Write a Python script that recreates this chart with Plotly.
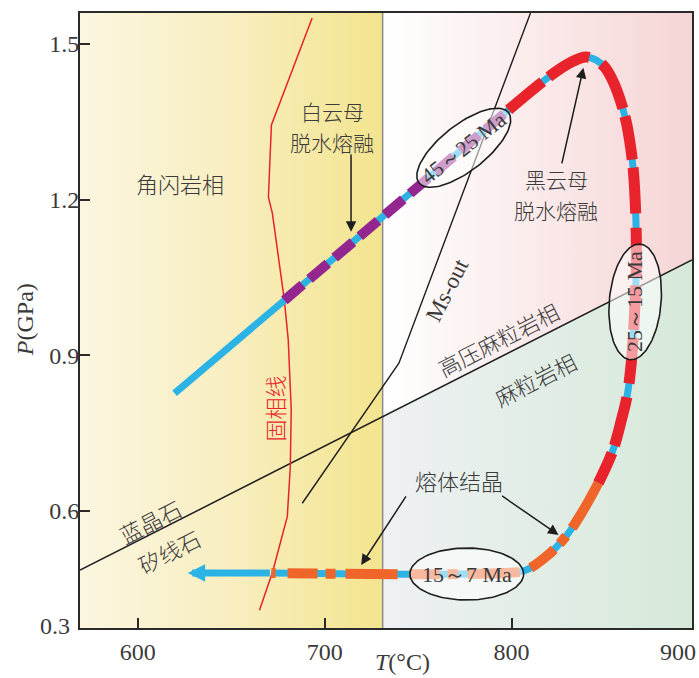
import numpy as np
import plotly.graph_objects as go

# ---------------- axis extents (T in °C, P in GPa) ----------------
T_MIN, T_MAX = 569.1, 896.5
P_MIN, P_MAX = 0.3746, 1.5597

# ---------------- phase boundaries ----------------
# kyanite/sillimanite line, continuing as the HP-granulite / granulite boundary
boundary_T = [569.1, 896.5]
boundary_P = [0.486, 1.084]

# amphibolite facies limit (vertical divide)
facies_T = 731.0

# muscovite-out reaction
ms_out_T = [810.1, 739.7, 688.0]
ms_out_P = [1.5597, 0.885, 0.615]

# wet solidus
solidus_T = [693.3, 671.5, 669.9, 672.0, 678.4, 680.5, 682.1, 681.6, 680.0, 672.0, 665.1]
solidus_P = [1.550, 1.344, 1.205, 1.174, 1.007, 0.930, 0.795, 0.685, 0.589, 0.481, 0.409]

# ---------------- P-T path ----------------
start_T = [619.7, 678.4]
start_P = [0.827, 1.006]
prograde_T = [678.4, 754.1, 798.4]
prograde_P = [1.006, 1.238, 1.373]
peak_T = [798.4, 814.4, 825.1, 833.1, 839.5, 845.3, 850.1, 854.4, 858.1, 861.3, 863.5,
          865.1, 866.1, 866.7, 866.7, 866.1, 865.1, 864.0, 861.9, 858.7, 853.9, 846.4]
peak_P = [1.373, 1.421, 1.450, 1.467, 1.475, 1.469, 1.454, 1.427, 1.392, 1.350, 1.305,
          1.257, 1.199, 1.128, 1.065, 1.007, 0.939, 0.885, 0.824, 0.775, 0.714, 0.654]
retro_T = [846.4, 838.4, 828.8, 818.1, 807.5, 795.7, 671.5]
retro_P = [0.654, 0.602, 0.550, 0.511, 0.486, 0.4805, 0.4805]
exhum_tip = (626.7, 0.4805)

# ---------------- age windows (ellipses) ----------------
age_labels = ["45～25 Ma", "25～15 Ma", "15～7 Ma"]
age_T = [774.4, 866.1, 776.0]
age_P = [1.300, 1.003, 0.4786]

# ---------------- colours ----------------
CYAN = "#2BB3E6"
PURPLE = "#93278F"
RED = "#E8232B"
ORANGE = "#F0652A"
INK = "#3A3A3A"
CJK = "Noto Sans CJK SC"
SERIF = "Liberation Serif"

W, H = 699, 678
M = dict(l=80, r=5, t=13, b=50)
PLOT_W = W - M["l"] - M["r"]
PLOT_H = H - M["t"] - M["b"]
PX_T = PLOT_W / (T_MAX - T_MIN)
PX_P = PLOT_H / (P_MAX - P_MIN)


def boundary_at(t):
    return float(np.interp(t, boundary_T, boundary_P))


def ellipse(tc, pc, a, b, ang):
    """Ellipse with semi-axes a, b (pixels) rotated by ang degrees."""
    s = np.linspace(0, 2 * np.pi, 121)
    th = np.radians(ang)
    dx = a * np.cos(s) * np.cos(th) - b * np.sin(s) * np.sin(th)
    dy = a * np.cos(s) * np.sin(th) + b * np.sin(s) * np.cos(th)
    return tc + dx / PX_T, pc + dy / PX_P


fig = go.Figure()

# ---- facies backgrounds ----
fig.add_trace(go.Scatter(
    x=[T_MIN, facies_T, facies_T, T_MIN, T_MIN], y=[P_MIN, P_MIN, P_MAX, P_MAX, P_MIN],
    fill="toself", mode="none", hoverinfo="skip",
    fillgradient=dict(type="horizontal",
                      colorscale=[[0, "#FBF6E0"], [0.5, "#F8EEC0"], [1, "#F3E48E"]])))
pb_l, pb_r = boundary_at(facies_T), boundary_at(T_MAX)
fig.add_trace(go.Scatter(
    x=[facies_T, T_MAX, T_MAX, facies_T, facies_T], y=[P_MAX, P_MAX, pb_r, pb_l, P_MAX],
    fill="toself", mode="none", hoverinfo="skip",
    fillgradient=dict(type="horizontal", colorscale=[[0, "#FFFFFF"], [1, "#F6D5D5"]])))
fig.add_trace(go.Scatter(
    x=[facies_T, T_MAX, T_MAX, facies_T, facies_T], y=[pb_l, pb_r, P_MIN, P_MIN, pb_l],
    fill="toself", mode="none", hoverinfo="skip",
    fillgradient=dict(type="horizontal", colorscale=[[0, "#EEF1F3"], [1, "#D6E9D9"]])))

# ---- reaction lines ----
fig.add_trace(go.Scatter(x=[facies_T, facies_T], y=[P_MIN, P_MAX], mode="lines",
                         line=dict(color="#8A8A8A", width=1.5), hoverinfo="skip"))
fig.add_trace(go.Scatter(x=boundary_T, y=boundary_P, mode="lines",
                         line=dict(color="#1E1E1E", width=1.5), hoverinfo="skip"))
fig.add_trace(go.Scatter(x=ms_out_T, y=ms_out_P, mode="lines",
                         line=dict(color="#1E1E1E", width=1.4), hoverinfo="skip"))
fig.add_trace(go.Scatter(x=solidus_T, y=solidus_P, mode="lines",
                         line=dict(color="#E8232B", width=1.5), hoverinfo="skip"))

# ---- P-T path: cyan core with coloured dashes ----
path_T = start_T + prograde_T[1:] + peak_T[1:] + retro_T[1:]
path_P = start_P + prograde_P[1:] + peak_P[1:] + retro_P[1:]
fig.add_trace(go.Scatter(x=path_T, y=path_P, mode="lines", line_shape="spline",
                         line=dict(color=CYAN, width=7), hoverinfo="skip"))
fig.add_trace(go.Scatter(x=prograde_T, y=prograde_P, mode="lines",
                         line=dict(color=PURPLE, width=10, dash="24px,9px"), hoverinfo="skip"))
fig.add_trace(go.Scatter(x=peak_T, y=peak_P, mode="lines", line_shape="spline",
                         line=dict(color=RED, width=11, dash="44px,8px,46px,14px,50px,8px"),
                         hoverinfo="skip"))
fig.add_trace(go.Scatter(x=retro_T, y=retro_P, mode="lines", line_shape="spline",
                         line=dict(color=ORANGE, width=10, dash="52px,10px,10px,8px,30px,12px"),
                         hoverinfo="skip"))

# ---- age ellipses ----
ell_geom = [(57, 23, 38), (58, 26, 85), (57, 26, 0)]
for (a, b, ang), tc, pc in zip(ell_geom, age_T, age_P):
    ex, ey = ellipse(tc, pc, a, b, ang)
    fig.add_trace(go.Scatter(x=ex, y=ey, mode="lines", fill="toself",
                             fillcolor="rgba(255,255,255,0.55)",
                             line=dict(color="#1E1E1E", width=1.6), hoverinfo="skip"))

annotations = []


def label(text, t, p, size=22, angle=0, color=INK, family=CJK, weight=300):
    annotations.append(dict(x=t, y=p, xref="x", yref="y", text=text, showarrow=False,
                            textangle=angle,
                            font=dict(family=family, size=size, color=color, weight=weight),
                            xanchor="center", yanchor="middle"))


def pointer(t0, p0, t1, p1):
    annotations.append(dict(x=t1, y=p1, ax=t0, ay=p0, xref="x", yref="y", axref="x",
                            ayref="y", text="", showarrow=True, arrowhead=2,
                            arrowsize=1.4, arrowwidth=1.5, arrowcolor="#1E1E1E"))


def page_text(text, px, py, angle=0, xanchor="center"):
    annotations.append(dict(x=(px - M["l"]) / PLOT_W, y=(M["t"] + PLOT_H - py) / PLOT_H,
                            xref="paper", yref="paper", text=text, showarrow=False,
                            textangle=angle, xanchor=xanchor, yanchor="middle",
                            font=dict(family=SERIF, size=24, color=INK)))


label("角闪岩相", 622.4, 1.232)
label("白云母", 704.0, 1.371, size=21)
label("脱水熔融", 704.0, 1.311, size=21)
label("黑云母", 824.0, 1.240, size=21)
label("脱水熔融", 824.0, 1.180, size=21)
label("熔体结晶", 771.7, 0.660)
label("高压麻粒岩相", 792.5, 0.932, angle=-27)
label("麻粒岩相", 812.5, 0.855, angle=-27)
label("蓝晶石", 606.4, 0.581, angle=-27)
label("矽线石", 616.5, 0.523, angle=-27)
label("固相线", 673.1, 0.7985, angle=-90, color="#E8232B")
label("Ms-out", 765.9, 1.026, size=23, angle=-63, family=SERIF, weight=400)
for txt, tc, pc, ang in zip(age_labels, age_T, age_P, [-38, -90, 0]):
    label(txt, tc, pc, size=22, angle=ang, family=SERIF, weight=400)

pointer(714.1, 1.290, 714.1, 1.138)
pointer(826.7, 1.267, 838.4, 1.454)
pointer(744.0, 0.631, 719.5, 0.496)
pointer(794.1, 0.631, 825.1, 0.554)

# arrowhead at the end of the exhumation path
annotations.append(dict(x=exhum_tip[0], y=exhum_tip[1], ax=retro_T[-1], ay=retro_P[-1],
                        xref="x", yref="y", axref="x", ayref="y", text="", showarrow=True,
                        arrowhead=2, arrowsize=0.5, arrowwidth=7, arrowcolor=CYAN))

# axis titles and end labels
page_text("<i>P</i>(GPa)", 25, 320, angle=-90)
page_text("<i>T</i>(°C)", 404, 662)
page_text("0.3", 72, 626, xanchor="right")
page_text("900", 680, 652)

axis_common = dict(showgrid=False, zeroline=False, showline=True, mirror=True,
                   linecolor="#2A2A2A", linewidth=2, ticks="inside", ticklen=10,
                   tickwidth=2, tickcolor="#2A2A2A",
                   tickfont=dict(family=SERIF, size=24, color=INK))

fig.update_layout(
    width=W, height=H, margin=M, showlegend=False,
    paper_bgcolor="white", plot_bgcolor="white",
    xaxis=dict(range=[T_MIN, T_MAX], tickvals=[600, 700, 800], ticklabelstandoff=1,
               **axis_common),
    yaxis=dict(range=[P_MIN, P_MAX], tickvals=[0.6, 0.9, 1.2, 1.5], tickformat=".1f",
               ticklabelstandoff=-6, **axis_common),
    annotations=annotations,
)

fig.write_html("out.html")
